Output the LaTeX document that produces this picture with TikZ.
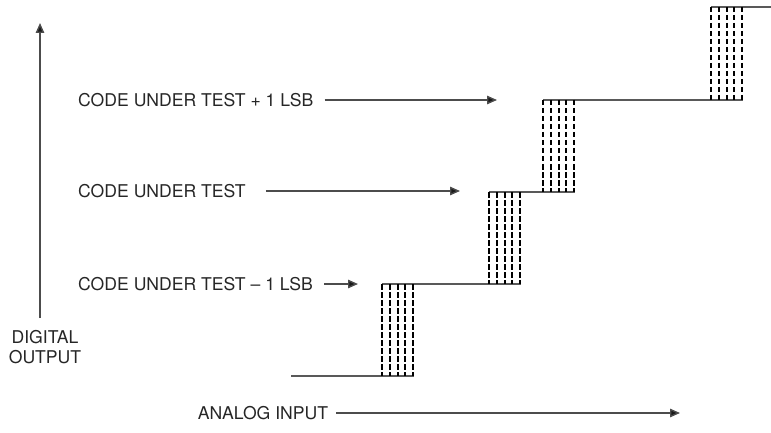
\documentclass[tikz,border=0pt]{standalone}
\usepackage{fontspec}
\setmainfont{TeX Gyre Heros}
\usetikzlibrary{arrows.meta,positioning}

\begin{document}
\begin{tikzpicture}[
    x=1pt, y=-1pt,
    font=\fontsize{17.6}{19.5}\selectfont,
    lbl/.style   ={inner sep=0pt, anchor=west, text=black!85},
    arr/.style   ={draw=black!70, line width=1.4pt, -{Triangle[length=10pt,width=8.5pt,fill=black!90]}},
    tread/.style ={draw=black!65, line width=1.6pt},
    riser/.style ={draw=black, line width=2pt, dash pattern=on 5.5pt off 2.5pt}
]
\useasboundingbox (0,0) rectangle (771,433);

% --- Axes ---
\coordinate (ybot) at (40,318);
\coordinate (ytop) at (40,23);
\draw[arr] (ybot) -- (ytop);
\node[inner sep=0pt, align=center, text=black!85] (yl) at (45,347) {DIGITAL\\OUTPUT};

\node[inner sep=0pt, text=black!85] (xl) at (263,413) {ANALOG INPUT};
\coordinate (xend) at (680,413);
\draw[arr] ([xshift=8pt]xl.east) -- (xend);

% --- Staircase: treads ---
\draw[tread] (291,376) -- (414,376);
\draw[tread] (382,284) -- (521,284);
\draw[tread] (489,192) -- (575,192);
\draw[tread] (543,100) -- (743,100);
\draw[tread] (711,7)   -- (771,7);

% --- Staircase: dashed transitions ---
\foreach \xa/\ytop/\ybot in {382/284/376, 489/192/284, 543/100/192, 711/7/100}
  \foreach \i in {0,...,4}
    \draw[riser] (\xa+7.75*\i,\ytop) -- (\xa+7.75*\i,\ybot);

% --- Code labels ---
\node[lbl] (cplus)  at (78,100) {CODE UNDER TEST + 1 LSB};
\node[lbl] (cmid)   at (78,191) {CODE UNDER TEST};
\node[lbl] (cminus) at (78,284) {CODE UNDER TEST -- 1 LSB};

\coordinate (tplus)  at (497,100);
\coordinate (tmid)   at (460,191);
\coordinate (tminus) at (358,284);

\draw[arr] ([xshift=11pt]cplus.east)  -- (tplus);
\draw[arr] ([xshift=20pt]cmid.east)   -- (tmid);
\draw[arr] ([xshift=11pt]cminus.east) -- (tminus);

\end{tikzpicture}
\end{document}
